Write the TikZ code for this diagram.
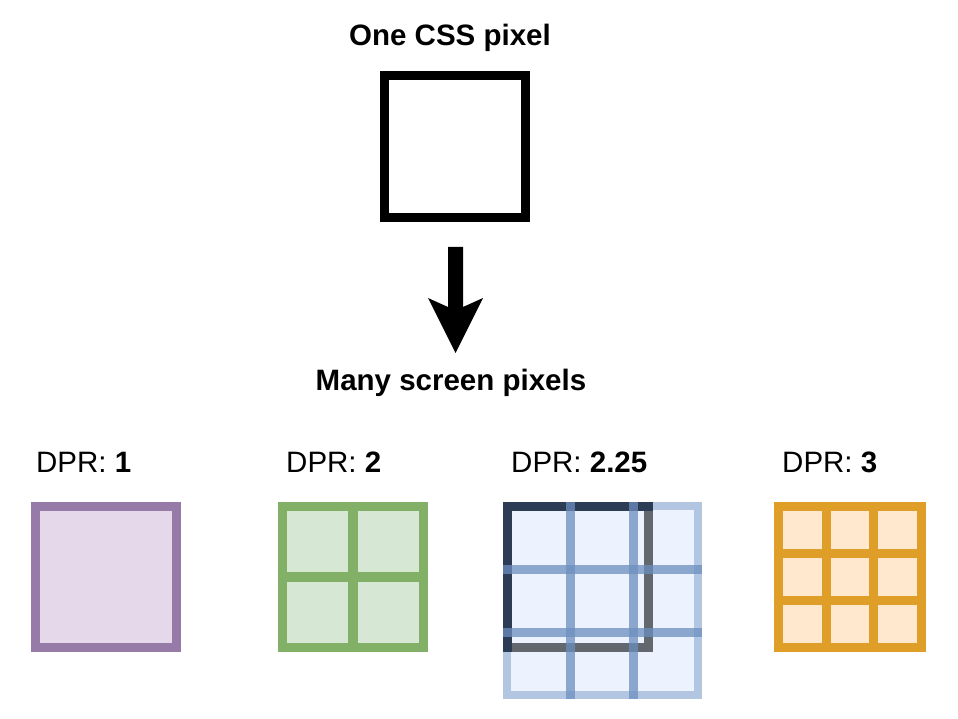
\documentclass[tikz,border=0pt]{standalone}
\usepackage{fontspec}
\setmainfont{Liberation Sans}
\definecolor{purpleS}{RGB}{150,122,168}
\definecolor{purpleF}{RGB}{228,216,234}
\definecolor{greenS}{RGB}{130,176,102}
\definecolor{greenF}{RGB}{214,232,212}
\definecolor{orangeS}{RGB}{222,158,40}
\definecolor{orangeF}{RGB}{255,232,206}
\definecolor{blueS}{RGB}{108,142,191}
\definecolor{blueOut}{RGB}{178,198,226}
\definecolor{blueF}{RGB}{236,243,254}
\definecolor{navy}{RGB}{44,60,84}
\definecolor{darkgray}{RGB}{99,103,110}
\begin{document}
\begin{tikzpicture}[x=1pt,y=-1pt,
  titletext/.style={font=\fontsize{29.5}{34}\selectfont\bfseries, inner sep=0pt, anchor=base},
  dprtext/.style={font=\fontsize{29.5}{34}\selectfont, inner sep=0pt, anchor=base west},
  pixbox/.style={draw, line width=9pt, minimum width=141pt, minimum height=141pt, inner sep=0pt, outer sep=0pt},
  gridline/.style={line width=9pt},
  blueline/.style={line width=9pt, draw=blueS, draw opacity=0.75}
]
\useasboundingbox (0,0) rectangle (958,719);

% top part
\node[titletext] (title) at (450,46) {One CSS pixel};
\node[pixbox, draw=black, fill=white, minimum height=142pt] (css) at (455,146.5) {};
\coordinate (arrtop) at (455.5,247);
\coordinate (arrtip) at (455.5,353);
\fill[black] (arrtop) ++(-7.5,0) -- ++(15,0) -- (463,307) -- (483,298) -- (arrtip) -- (428,298) -- (448,307) -- cycle;
\node[titletext] (many) at (451,390) {Many screen pixels};

% labels
\node[dprtext] (l1) at (36,472) {DPR: \textbf{1}};
\node[dprtext] (l2) at (286,472) {DPR: \textbf{2}};
\node[dprtext] (l3) at (511,472) {DPR: \textbf{2.25}};
\node[dprtext] (l4) at (782,472) {DPR: \textbf{3}};

% DPR 1
\node[pixbox, draw=purpleS, fill=purpleF] (d1) at (106,577) {};

% DPR 2
\node[pixbox, draw=greenS, fill=greenF] (d2) at (353,577) {};
\draw[line width=10pt, greenS] (d2.north) -- (d2.south);
\draw[line width=10pt, greenS] (d2.west) -- (d2.east);

% DPR 3
\node[pixbox, draw=orangeS, fill=orangeF, minimum width=143pt, minimum height=141pt] (d4) at (850,577) {};
\draw[gridline, orangeS] (826.2,506.5) -- (826.2,647.5);
\draw[gridline, orangeS] (873.8,506.5) -- (873.8,647.5);
\draw[gridline, orangeS] (778.5,553.5) -- (921.5,553.5);
\draw[gridline, orangeS] (778.5,600.5) -- (921.5,600.5);

% DPR 2.25
\fill[blueF] (503,502) rectangle (702,699);
\draw[line width=8pt, blueOut] (507,506) rectangle (698,695);
\node[pixbox, draw=darkgray] (d3) at (578,577) {};
\draw[line width=9pt, navy, line join=miter] (507.5,647.5+4.5) -- (507.5,506.5) -- (648.5+4.5,506.5);
\draw[blueline] (570,502) -- (570,699);
\draw[blueline] (633,502) -- (633,699);
\draw[blueline] (503,569) -- (702,569);
\draw[blueline] (503,632) -- (702,632);
\end{tikzpicture}
\end{document}
